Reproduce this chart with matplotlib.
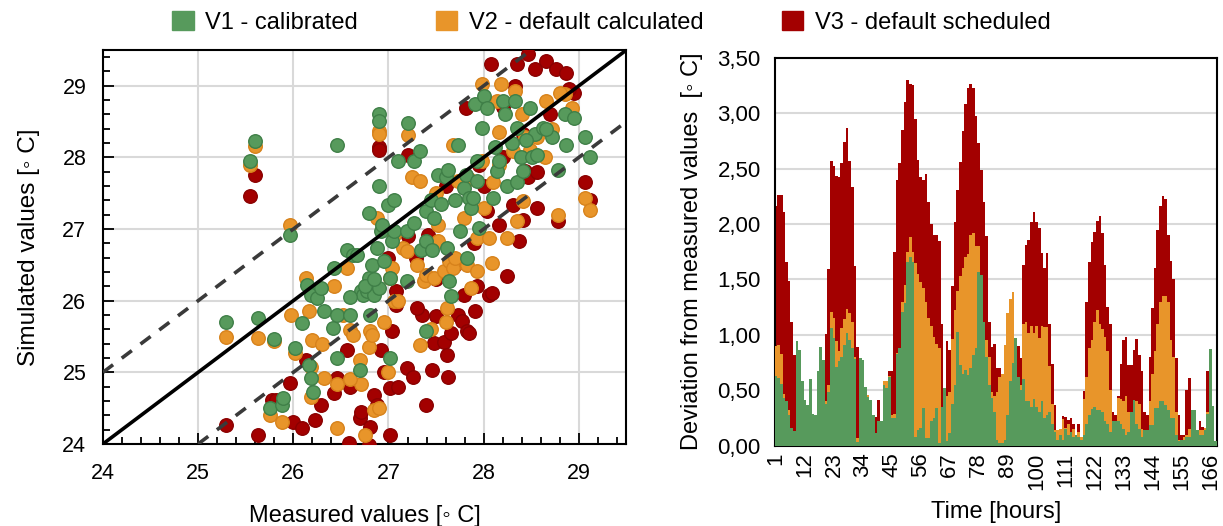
import matplotlib.pyplot as plt
from matplotlib.patches import Patch
from matplotlib.ticker import MultipleLocator, FuncFormatter
import numpy as np

plt.rcParams['font.family'] = ['Liberation Sans', 'DejaVu Sans']

GREEN, GREEN_E = '#579A5C', '#3F7F47'
ORANGE, ORANGE_E = '#E8952A', '#D7821B'
RED, RED_E = '#A30000', '#8A0000'

# --- scatter: measured vs simulated (deg C) ---
x_v1 = [25.29, 25.63, 25.80, 25.75, 25.88, 25.89, 25.96, 26.02, 26.09, 26.14, 26.19, 26.17,
        26.19, 26.21, 26.25, 26.29, 26.32, 26.42, 26.46, 26.46, 26.43, 26.56, 26.60, 26.63,
        26.67, 26.70, 26.71, 26.73, 26.77, 26.79, 26.79, 26.81, 26.83, 26.85, 26.88, 26.90,
        26.90, 26.90, 26.90, 26.92, 26.93, 27.02, 27.02, 27.00, 27.06, 27.04, 27.06, 27.10,
        27.19, 27.19, 27.27, 27.27, 27.33, 27.34, 27.39, 27.39, 27.39, 27.46, 27.48, 27.52,
        27.60, 27.61, 27.63, 27.64, 27.66, 27.73, 27.75, 27.79, 27.81, 27.82, 27.85, 27.87,
        27.89, 27.93, 27.93, 27.95, 27.91, 27.98, 28.00, 28.04, 28.10, 28.12, 28.14, 28.16,
        28.20, 28.22, 28.24, 28.33, 28.35, 28.35, 28.39, 28.41, 28.49, 28.51, 28.54, 28.56,
        28.62, 28.72, 28.78, 28.85, 28.87, 28.95, 29.07, 29.12, 25.54, 25.60, 26.46, 27.20,
        26.60, 26.75, 26.95, 27.45, 27.55, 27.70, 28.30, 28.45, 28.65, 26.85]
y_v1 = [25.70, 25.76, 25.47, 24.50, 24.55, 24.64, 26.92, 25.34, 25.69, 26.22, 26.08, 25.10,
        24.92, 24.73, 26.04, 26.18, 25.85, 25.62, 25.20, 25.80, 26.46, 26.71, 25.80, 26.64,
        26.64, 25.03, 26.13, 26.08, 26.13, 27.23, 26.32, 25.80, 26.50, 26.08, 26.74, 26.18,
        27.60, 28.60, 28.51, 26.97, 27.06, 25.20, 26.32, 27.34, 27.41, 26.83, 26.97, 27.95,
        26.97, 26.27, 27.09, 27.95, 28.09, 26.71, 25.57, 26.83, 27.25, 26.71, 27.16, 27.76,
        27.72, 26.74, 27.83, 26.27, 26.06, 28.18, 26.97, 27.58, 27.76, 26.60, 27.44, 27.30,
        27.44, 27.67, 27.95, 27.02, 28.74, 28.41, 28.86, 28.69, 27.44, 28.14, 27.81, 27.95,
        28.79, 28.60, 27.60, 28.79, 28.41, 27.65, 28.00, 27.81, 28.69, 28.00, 28.32, 28.04,
        28.41, 28.28, 27.83, 28.60, 28.18, 28.55, 28.28, 28.00, 27.95, 28.23, 28.17, 28.48,
        26.05, 26.20, 26.55, 27.40, 27.35, 27.40, 28.20, 28.25, 28.40, 26.30]

x_v2 = [25.29, 25.54, 25.60, 25.63, 25.75, 25.80, 25.88, 25.96, 25.98, 26.02, 26.13, 26.17,
        26.19, 26.19, 26.20, 26.32, 26.43, 26.46, 26.46, 26.56, 26.60, 26.63, 26.70, 26.71,
        26.75, 26.79, 26.81, 26.85, 26.83, 26.88, 26.90, 26.90, 27.00, 27.02, 27.04, 27.06,
        27.06, 27.15, 27.19, 27.21, 27.25, 27.33, 27.33, 27.37, 27.39, 27.48, 27.52, 27.52,
        27.58, 27.62, 27.64, 27.68, 27.68, 27.73, 27.79, 27.83, 27.87, 27.93, 27.93, 27.98,
        27.98, 28.06, 28.09, 28.10, 28.14, 28.16, 28.16, 28.18, 28.24, 28.31, 28.33, 28.35,
        28.41, 28.43, 28.49, 28.56, 28.64, 28.66, 28.72, 28.78, 28.85, 28.93, 29.07, 29.12,
        26.52, 26.95, 27.10, 27.30, 27.45, 27.60, 27.70, 27.85, 28.00, 27.50, 26.30, 26.60,
        26.90, 28.40, 28.80]
y_v2 = [25.49, 27.90, 28.16, 25.48, 24.41, 25.44, 24.31, 27.05, 25.80, 25.27, 26.32, 25.85,
        25.07, 24.66, 25.45, 24.92, 26.20, 24.83, 24.22, 26.46, 25.59, 25.52, 25.17, 24.83,
        24.13, 25.36, 25.57, 24.48, 25.52, 27.16, 28.37, 28.32, 25.01, 26.32, 26.46, 25.99,
        26.92, 26.74, 26.69, 28.31, 27.72, 27.67, 25.38, 26.27, 26.36, 26.32, 26.83, 27.06,
        26.41, 25.90, 26.55, 26.46, 28.18, 27.67, 27.16, 26.50, 26.18, 26.41, 26.88, 27.95,
        29.02, 26.88, 26.53, 27.65, 28.79, 28.35, 27.90, 29.02, 26.88, 28.09, 28.93, 27.11,
        27.39, 28.28, 28.11, 28.28, 28.00, 28.79, 28.39, 27.20, 28.88, 28.69, 27.44, 27.27,
        25.80, 25.70, 26.00, 26.50, 25.60, 25.70, 26.60, 27.70, 27.30, 27.50, 25.40, 24.90,
        24.50, 28.60, 28.90]

x_v3 = [25.29, 25.54, 25.60, 25.63, 25.78, 25.82, 25.96, 26.00, 26.09, 26.13, 26.23, 26.29,
        26.43, 26.46, 26.56, 26.59, 26.70, 26.71, 26.79, 26.81, 26.85, 26.90, 26.90, 26.88,
        26.92, 27.02, 27.02, 27.04, 27.08, 27.08, 27.19, 27.21, 27.26, 27.29, 27.35, 27.39,
        27.41, 27.46, 27.48, 27.50, 27.58, 27.61, 27.63, 27.66, 27.73, 27.77, 27.79, 27.81,
        27.83, 27.85, 27.91, 27.93, 28.04, 28.06, 28.09, 28.08, 28.16, 28.25, 28.31, 28.33,
        28.37, 28.41, 28.43, 28.47, 28.56, 28.35, 28.47, 28.54, 28.66, 28.76, 28.87, 28.95,
        29.07, 29.12, 28.78, 28.56, 28.41, 27.00, 27.20, 27.50, 27.70, 27.90, 28.00, 28.20,
        27.60, 27.30, 26.95, 26.60, 27.10, 28.70, 28.90, 28.20, 27.95]
y_v3 = [24.27, 27.46, 27.75, 24.13, 24.62, 24.62, 24.85, 24.31, 24.22, 25.17, 24.34, 24.55,
        24.71, 24.92, 25.31, 24.01, 24.36, 24.45, 23.99, 24.24, 24.69, 28.14, 28.10, 24.55,
        25.31, 24.13, 24.78, 25.57, 26.13, 25.94, 25.06, 28.04, 24.94, 26.60, 25.80, 24.55,
        26.92, 25.03, 25.41, 25.78, 25.43, 25.24, 24.94, 25.55, 25.80, 25.71, 26.08, 28.69,
        25.57, 25.55, 25.85, 26.20, 27.25, 26.08, 26.11, 29.30, 27.06, 26.34, 27.34, 29.00,
        26.83, 27.13, 27.81, 27.72, 27.79, 29.30, 29.44, 29.23, 29.35, 29.23, 29.18, 28.90,
        27.65, 27.41, 27.11, 27.30, 28.32, 26.60, 26.90, 26.30, 26.50, 26.80, 27.60, 28.00,
        27.60, 25.90, 25.00, 24.80, 24.80, 28.60, 28.95, 28.70, 27.90]

# --- hourly deviation from measured values (deg C) ---
hours = list(range(1, 169))
dev_v1 = [0.63, 0.61, 0.56, 0.43, 0.40, 0.28, 0.16, 0.13, 0.94, 0.86,
          0.58, 0.41, 0.37, 0.60, 0.29, 0.28, 0.67, 0.89, 0.77, 0.38,
          0.48, 1.06, 0.97, 0.71, 0.76, 0.80, 0.91, 1.02, 0.95, 0.88,
          0.78, 0.03, 0.79, 0.77, 0.53, 0.44, 0.41, 0.28, 0.11, 0.22,
          0.22, 0.55, 0.52, 0.62, 0.25, 0.25, 0.83, 0.88, 1.21, 1.29,
          1.66, 1.70, 1.66, 0.08, 0.14, 0.16, 0.34, 0.07, 0.07, 0.22,
          0.25, 0.34, 0.02, 0.35, 0.52, 0.04, 0.11, 0.38, 0.55, 1.03,
          0.73, 0.65, 0.68, 0.64, 0.70, 0.82, 0.88, 1.57, 1.54, 1.12,
          0.80, 0.55, 0.43, 0.30, 0.05, 0.02, 0.02, 0.05, 0.28, 0.58,
          0.75, 0.97, 0.62, 0.50, 0.60, 0.40, 0.40, 0.35, 0.42, 0.35,
          0.30, 0.40, 0.25, 0.28, 0.30, 0.20, 0.12, 0.05, 0.10, 0.05,
          0.15, 0.10, 0.12, 0.08, 0.10, 0.08, 0.05, 0.10, 0.20, 0.28,
          0.33, 0.35, 0.32, 0.32, 0.30, 0.22, 0.20, 0.12, 0.22, 0.22,
          0.22, 0.20, 0.15, 0.10, 0.12, 0.30, 0.41, 0.20, 0.15, 0.08,
          0.14, 0.14, 0.19, 0.19, 0.34, 0.34, 0.40, 0.40, 0.37, 0.32,
          0.25, 0.25, 0.10, 0.04, 0.05, 0.05, 0.08, 0.08, 0.32, 0.32,
          0.14, 0.10, 0.10, 0.14, 0.29, 0.87, 0.36, 0.04]
dev_v2 = [0.90, 0.91, 0.83, 0.47, 0.38, 0.32, 0.14, 0.13, 0.94, 0.86,
          0.58, 0.41, 0.37, 0.60, 0.29, 0.28, 0.67, 0.89, 0.77, 0.40,
          0.55, 1.21, 1.15, 0.94, 0.85, 1.06, 1.14, 1.23, 1.20, 1.12,
          0.80, 0.07, 0.79, 0.77, 0.53, 0.46, 0.41, 0.28, 0.11, 0.22,
          0.22, 0.58, 0.58, 0.63, 0.28, 0.29, 0.84, 0.88, 1.30, 1.45,
          1.75, 1.88, 1.75, 1.65, 1.55, 1.48, 1.42, 1.30, 1.15, 1.08,
          0.98, 0.92, 0.88, 0.35, 0.52, 0.45, 0.48, 0.96, 1.22, 1.40,
          1.53, 1.60, 1.70, 1.73, 1.90, 1.92, 1.80, 1.80, 1.28, 1.12,
          0.95, 0.80, 0.48, 0.45, 0.48, 0.62, 0.65, 0.91, 1.20, 1.32,
          1.39, 0.97, 0.62, 0.55, 1.10, 1.12, 1.02, 1.08, 1.02, 1.08,
          0.97, 1.08, 1.07, 1.07, 0.72, 0.38, 0.14, 0.14, 0.15, 0.24,
          0.16, 0.20, 0.12, 0.15, 0.10, 0.12, 0.08, 0.42, 0.62, 0.88,
          0.95, 1.12, 1.22, 1.10, 1.05, 0.98, 0.85, 0.50, 0.22, 0.22,
          0.43, 0.42, 0.40, 0.45, 0.30, 0.30, 0.41, 0.40, 0.38, 0.15,
          0.14, 0.14, 0.40, 0.65, 0.85, 1.10, 1.30, 1.35, 1.35, 1.30,
          0.95, 0.80, 0.30, 0.05, 0.05, 0.08, 0.10, 0.15, 0.32, 0.32,
          0.14, 0.14, 0.14, 0.16, 0.30, 0.87, 0.36, 0.04]
dev_v3 = [2.16, 2.26, 2.26, 2.11, 1.66, 1.49, 1.12, 0.82, 0.94, 0.86,
          0.58, 0.41, 0.37, 0.60, 0.29, 0.28, 0.67, 0.89, 0.77, 1.01,
          1.59, 2.57, 2.52, 2.43, 2.42, 2.55, 2.74, 2.87, 2.57, 2.33,
          1.62, 0.89, 0.79, 0.77, 0.53, 0.46, 0.41, 0.28, 0.26, 0.41,
          0.22, 0.58, 0.58, 0.67, 0.67, 1.75, 2.40, 2.55, 2.85, 3.10,
          3.30, 3.26, 3.25, 2.95, 2.58, 2.42, 2.40, 2.45, 2.20, 2.00,
          1.90, 1.90, 1.85, 1.10, 0.52, 0.94, 0.86, 1.44, 2.02, 2.31,
          2.56, 2.84, 3.08, 3.23, 3.26, 3.23, 2.97, 2.73, 2.49, 2.20,
          1.89, 1.12, 0.89, 0.92, 0.70, 0.70, 0.65, 0.91, 1.20, 1.32,
          1.39, 0.97, 0.90, 0.79, 1.63, 1.81, 1.86, 2.02, 2.11, 2.02,
          1.96, 1.74, 1.60, 1.74, 1.10, 0.74, 0.37, 0.14, 0.14, 0.27,
          0.26, 0.23, 0.25, 0.20, 0.10, 0.20, 0.08, 0.49, 1.30, 1.66,
          1.84, 1.93, 2.03, 2.07, 1.92, 1.63, 1.25, 1.10, 0.30, 0.28,
          0.45, 0.74, 0.95, 0.98, 0.73, 0.73, 0.86, 0.96, 0.82, 0.67,
          0.30, 0.28, 0.80, 1.24, 1.60, 1.95, 2.16, 2.25, 2.23, 1.90,
          1.67, 1.50, 0.79, 0.28, 0.10, 0.10, 0.50, 0.61, 0.32, 0.32,
          0.14, 0.22, 0.17, 0.16, 0.67, 0.87, 0.36, 0.04]

labels = ['V1 - calibrated', 'V2 - default calculated', 'V3 - default scheduled']

fig = plt.figure(figsize=(12.23, 5.26), dpi=100)
ax1 = fig.add_axes([0.0842, 0.156, 0.428, 0.749])
ax2 = fig.add_axes([0.6334, 0.1527, 0.3617, 0.7375])

# left: scatter
ax1.grid(True, which='major', color='#D9D9D9', lw=1.5, zorder=0)
ax1.scatter(x_v3, y_v3, s=95, c=RED, edgecolors=RED_E, linewidths=1, zorder=3)
ax1.scatter(x_v2, y_v2, s=95, c=ORANGE, edgecolors=ORANGE_E, linewidths=1, zorder=4)
ax1.scatter(x_v1, y_v1, s=95, c=GREEN, edgecolors=GREEN_E, linewidths=1, zorder=5)
lo, hi = 24, 29.5
ax1.plot([lo, hi], [lo, hi], color='black', lw=2.6, zorder=6)
ax1.plot([lo, hi - 1], [lo + 1, hi], color='#3A3A3A', lw=2.6, ls=(0, (3.5, 3)), zorder=6)
ax1.plot([lo + 1, hi], [lo, hi - 1], color='#3A3A3A', lw=2.6, ls=(0, (3.5, 3)), zorder=6)
ax1.set_xlim(lo, hi)
ax1.set_ylim(lo, hi)
ax1.xaxis.set_major_locator(MultipleLocator(1))
ax1.yaxis.set_major_locator(MultipleLocator(1))
ax1.xaxis.set_minor_locator(MultipleLocator(0.2))
ax1.yaxis.set_minor_locator(MultipleLocator(0.2))
ax1.tick_params(which='both', direction='in', labelsize=15.5, width=1.3)
ax1.tick_params(axis='x', pad=14)
ax1.tick_params(axis='y', pad=12)
ax1.tick_params(which='major', length=8)
ax1.tick_params(which='minor', length=5)
for sp in ax1.spines.values():
    sp.set_linewidth(1.5)
ax1.set_xlabel('Measured values [◦ C]', fontsize=17, labelpad=15)
ax1.set_ylabel('Simulated values [◦ C]', fontsize=17.5, labelpad=16)

# right: overlapping hourly bars
ax2.grid(True, axis='y', color='#D9D9D9', lw=1.5, zorder=0)
ax2.bar(hours, dev_v3, width=1.0, color=RED, lw=0, antialiased=False, zorder=2)
ax2.bar(hours, dev_v2, width=1.0, color=ORANGE, lw=0, antialiased=False, zorder=3)
ax2.bar(hours, dev_v1, width=1.0, color=GREEN, lw=0, antialiased=False, zorder=4)
ax2.set_xlim(0.5, 168.5)
ax2.set_ylim(0, 3.5)
ax2.set_yticks(np.arange(0, 3.51, 0.5))
ax2.yaxis.set_major_formatter(FuncFormatter(lambda v, p: f'{v:.2f}'.replace('.', ',')))
ax2.set_xticks(hours[::11])
ax2.set_xticklabels([str(h) for h in hours[::11]], rotation=90)
ax2.tick_params(axis='both', length=0, labelsize=16)
ax2.tick_params(axis='y', pad=10)
ax2.tick_params(axis='x', pad=5)
for sp in ax2.spines.values():
    sp.set_linewidth(1.5)
ax2.set_xlabel('Time [hours]', fontsize=17, labelpad=8)
ax2.set_ylabel('Deviation from measured values  [◦ C]', fontsize=17, labelpad=10)

handles = [Patch(color=GREEN), Patch(color=ORANGE), Patch(color=RED)]
fig.legend(handles, labels, loc='center', bbox_to_anchor=(0.5, 0.958), ncol=3,
           frameon=False, fontsize=17, handlelength=0.9, handleheight=0.9,
           handletextpad=0.5, columnspacing=3.3)

fig.savefig('out.png', dpi=100)
